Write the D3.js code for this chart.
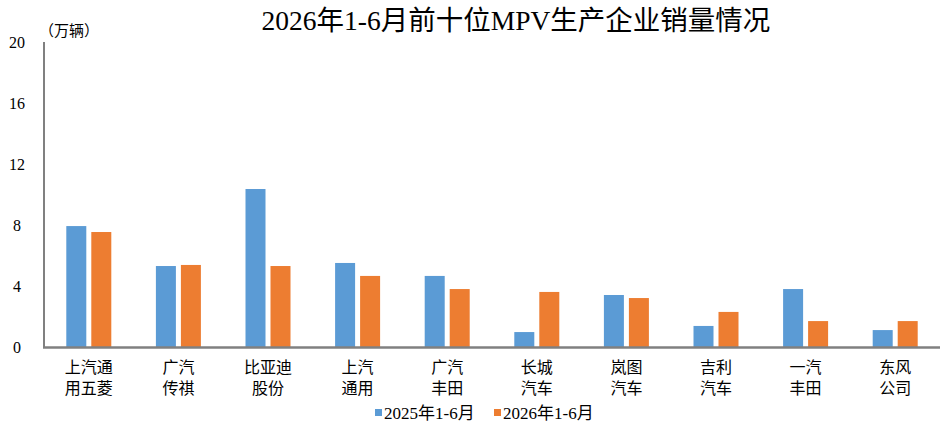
<!DOCTYPE html>
<html>
<head>
<meta charset="utf-8">
<script src="https://cdn.jsdelivr.net/npm/d3@7"></script>
<style>
  body { margin: 0; background: #fff; }
  svg text { font-family: "Liberation Serif", "Noto Sans CJK SC", serif; fill: #000; }
</style>
</head>
<body>
<svg id="chart" width="945" height="426"></svg>
<script>
// data
var categories = [
    ['上汽通', '用五菱'], ['广汽', '传祺'], ['比亚迪', '股份'], ['上汽', '通用'], ['广汽', '丰田'],
    ['长城', '汽车'], ['岚图', '汽车'], ['吉利', '汽车'], ['一汽', '丰田'], ['东风', '公司']
];
var seriesNames = ['2025年1-6月', '2026年1-6月'];
var values2025 = [7.93, 5.31, 10.36, 5.51, 4.66, 0.98, 3.41, 1.38, 3.80, 1.11];
var values2026 = [7.54, 5.38, 5.31, 4.66, 3.80, 3.61, 3.21, 2.30, 1.70, 1.70];
var yTicks = [0, 4, 8, 12, 16, 20];
var colors = ['#5B9BD5', '#ED7D31'];

var svg = d3.select('#chart');
var plotLeft = 44, plotRight = 940, plotTop = 42, plotBottom = 347;

var x = d3.scaleBand()
    .domain(d3.range(categories.length))
    .range([plotLeft, plotRight]);

var y = d3.scaleLinear()
    .domain([0, 20])
    .range([plotBottom, plotTop]);

var barW = 20, gap = 5;

// title
svg.append('text')
    .attr('x', 516)
    .attr('y', 30)
    .attr('text-anchor', 'middle')
    .style('font-size', '27.5px')
    .text('2026年1-6月前十位MPV生产企业销量情况');

// unit label
svg.append('text')
    .attr('x', 39)
    .attr('y', 36)
    .style('font-family', '"Noto Sans CJK SC", sans-serif')
    .style('font-size', '15px')
    .text('（万辆）');

// y tick labels
svg.selectAll('.ytick')
    .data(yTicks)
    .enter().append('text')
    .attr('class', 'ytick')
    .attr('x', 17)
    .attr('y', function (d) { return y(d) + 6; })
    .attr('text-anchor', 'middle')
    .style('font-size', '16px')
    .text(function (d) { return d; });

// bars
var series = [values2025, values2026];
series.forEach(function (vals, s) {
    svg.selectAll('.bar' + s)
        .data(vals)
        .enter().append('rect')
        .attr('class', 'bar' + s)
        .attr('x', function (d, i) {
            var c = x(i) + x.bandwidth() / 2;
            return s === 0 ? c - gap / 2 - barW : c + gap / 2;
        })
        .attr('y', function (d) { return y(d); })
        .attr('width', barW)
        .attr('height', function (d) { return plotBottom - y(d); })
        .attr('fill', colors[s]);
});

// axes lines
svg.append('line')
    .attr('x1', plotLeft).attr('x2', plotLeft)
    .attr('y1', plotTop).attr('y2', plotBottom + 1)
    .attr('stroke', '#808080')
    .attr('stroke-width', 2);
svg.append('line')
    .attr('x1', plotLeft - 1).attr('x2', plotRight)
    .attr('y1', plotBottom + 0.5).attr('y2', plotBottom + 0.5)
    .attr('stroke', '#808080')
    .attr('stroke-width', 2.5);

// category labels (two lines)
var cat = svg.selectAll('.cat')
    .data(categories)
    .enter().append('text')
    .attr('class', 'cat')
    .attr('text-anchor', 'middle')
    .style('font-size', '16px');
cat.each(function (d, i) {
    var t = d3.select(this);
    var cx = x(i) + x.bandwidth() / 2;
    t.append('tspan').attr('x', cx).attr('y', 373).text(d[0]);
    t.append('tspan').attr('x', cx).attr('y', 394).text(d[1]);
});

// legend
var legendX = [375, 494];
seriesNames.forEach(function (name, s) {
    svg.append('rect')
        .attr('x', legendX[s])
        .attr('y', 409)
        .attr('width', 7)
        .attr('height', 7)
        .attr('fill', colors[s]);
    svg.append('text')
        .attr('x', legendX[s] + 9)
        .attr('y', 419)
        .style('font-size', '17px')
        .text(name);
});
</script>
</body>
</html>
